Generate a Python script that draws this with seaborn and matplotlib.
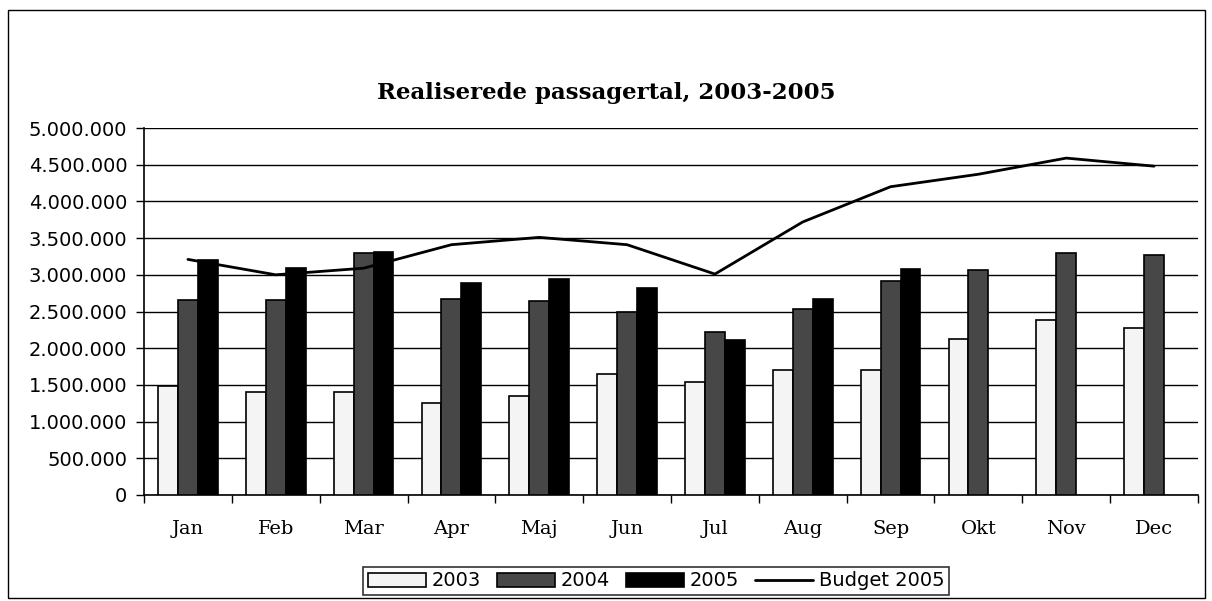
import matplotlib
matplotlib.use("Agg")
import matplotlib.pyplot as plt
import matplotlib.ticker as mticker
from matplotlib.patches import Patch, Rectangle
from matplotlib.lines import Line2D
import numpy as np
import pandas as pd
import seaborn as sns

months = ["Jan", "Feb", "Mar", "Apr", "Maj", "Jun", "Jul", "Aug", "Sep", "Okt", "Nov", "Dec"]
y2003 = [1490000, 1410000, 1410000, 1250000, 1350000, 1650000, 1540000, 1700000, 1700000, 2130000, 2390000, 2280000]
y2004 = [2660000, 2650000, 3300000, 2670000, 2640000, 2490000, 2220000, 2540000, 2910000, 3070000, 3300000, 3270000]
y2005 = [3200000, 3090000, 3310000, 2890000, 2940000, 2820000, 2110000, 2670000, 3080000, np.nan, np.nan, np.nan]
budget2005 = [3210000, 3000000, 3090000, 3410000, 3510000, 3410000, 3010000, 3720000, 4200000, 4370000, 4590000, 4480000]
years = ["2003", "2004", "2005"]
yticks = list(range(0, 5000001, 500000))

df = pd.DataFrame({
    "month": months * 3,
    "year": ["2003"] * 12 + ["2004"] * 12 + ["2005"] * 12,
    "value": y2003 + y2004 + y2005,
})

sns.set_theme(style="white")
plt.rcParams["font.family"] = ["DejaVu Sans"]
plt.rcParams["text.color"] = "black"
plt.rcParams["xtick.color"] = "black"
plt.rcParams["ytick.color"] = "black"
plt.rcParams["axes.labelcolor"] = "black"

fig = plt.figure(figsize=(12.12, 6.01), dpi=100)
ax = fig.add_axes([144 / 1212, 1 - 495 / 601, (1198 - 144) / 1212, (495 - 128) / 601])

face = {"2003": "#f4f4f4", "2004": "#474747", "2005": "#000000"}
sns.barplot(data=df, x="month", y="value", hue="year", hue_order=years, order=months,
            palette=face, width=0.68, dodge=True, errorbar=None, ax=ax,
            edgecolor="black", linewidth=1.2, legend=False, zorder=3)

ax.plot(np.arange(len(months)), budget2005, color="black", linewidth=2, zorder=4)

ax.set_ylim(0, 5000000)
ax.set_xlim(-0.5, len(months) - 0.5)
ax.set_yticks(yticks)
ax.yaxis.set_major_formatter(mticker.FuncFormatter(lambda v, p: f"{int(v):,}".replace(",", ".")))
ax.yaxis.grid(True, color="black", linewidth=1.0, zorder=0)
ax.set_axisbelow(True)
ax.set_xlabel("")
ax.set_ylabel("")

for s in ["top", "right"]:
    ax.spines[s].set_visible(False)
for s in ["left", "bottom"]:
    ax.spines[s].set_color("black")
    ax.spines[s].set_linewidth(1.2)

ax.tick_params(axis="y", labelsize=14, left=True, length=6, width=1, color="black", pad=6)
ax.set_xticks(np.arange(len(months)))
ax.set_xticklabels(months, fontfamily="DejaVu Serif", fontsize=14)
ax.tick_params(axis="x", bottom=False, pad=12)
ax.set_xticks(np.arange(-0.5, len(months), 1), minor=True)
ax.tick_params(axis="x", which="minor", bottom=True, length=6, width=1, color="black")

fig.text(0.5, 1 - 99 / 601, "Realiserede passagertal, 2003-2005", ha="center", va="baseline",
         fontfamily="DejaVu Serif", fontweight="bold", fontsize=16.5, color="black")

handles = [Patch(facecolor=face[y], edgecolor="black", linewidth=1.2) for y in years]
handles.append(Line2D([0], [0], color="black", linewidth=2))
labels = years + ["Budget 2005"]
leg = fig.legend(handles, labels, loc="center", bbox_to_anchor=(656 / 1212, 1 - 581 / 601),
                 ncol=4, frameon=True, fancybox=False, edgecolor="black", fontsize=14,
                 handlelength=3, columnspacing=0.8, handletextpad=0.3, borderpad=0.25)
leg.get_frame().set_linewidth(1.2)

fig.patches.append(Rectangle((8 / 1212, 0.005), (1205 - 8) / 1212, 1 - 10 / 601 - 0.005,
                             transform=fig.transFigure, fill=False, edgecolor="black",
                             linewidth=1.0))

fig.savefig("out.png", dpi=100, facecolor="white")
